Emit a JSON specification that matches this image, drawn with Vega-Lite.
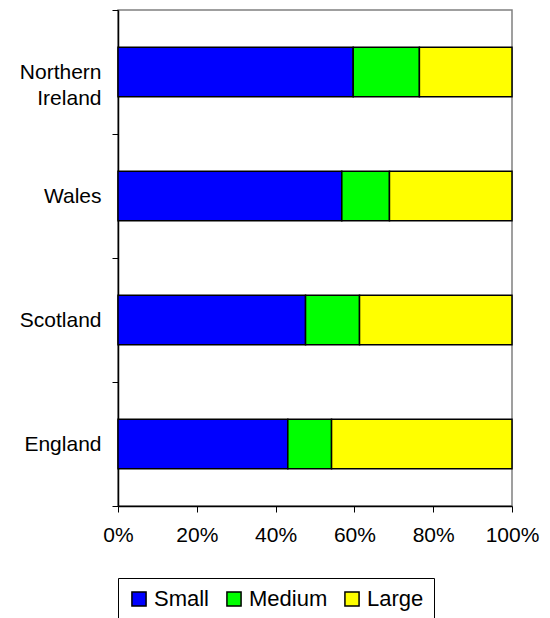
{
  "$schema": "https://vega.github.io/schema/vega-lite/v6.json",
  "autosize": {"type": "none"},
  "width": 394,
  "height": 496,
  "padding": {"left": 118, "top": 10, "right": 38, "bottom": 112},
  "background": "white",
  "config": {
    "font": "Liberation Sans",
    "view": {"stroke": "#808080", "strokeWidth": 1.5}
  },
  "data": {
    "values": [
      {"country": "Northern Ireland", "size": "Small", "order": 1, "share": 0.597},
      {"country": "Northern Ireland", "size": "Medium", "order": 2, "share": 0.168},
      {"country": "Northern Ireland", "size": "Large", "order": 3, "share": 0.235},
      {"country": "Wales", "size": "Small", "order": 1, "share": 0.568},
      {"country": "Wales", "size": "Medium", "order": 2, "share": 0.121},
      {"country": "Wales", "size": "Large", "order": 3, "share": 0.311},
      {"country": "Scotland", "size": "Small", "order": 1, "share": 0.476},
      {"country": "Scotland", "size": "Medium", "order": 2, "share": 0.137},
      {"country": "Scotland", "size": "Large", "order": 3, "share": 0.387},
      {"country": "England", "size": "Small", "order": 1, "share": 0.431},
      {"country": "England", "size": "Medium", "order": 2, "share": 0.111},
      {"country": "England", "size": "Large", "order": 3, "share": 0.458}
    ]
  },
  "mark": {"type": "bar", "stroke": "black", "strokeWidth": 1.5, "height": {"band": 0.4}},
  "encoding": {
    "y": {
      "field": "country",
      "type": "nominal",
      "sort": ["Northern Ireland", "Wales", "Scotland", "England"],
      "scale": {"paddingInner": 0, "paddingOuter": 0},
      "axis": {
        "title": null,
        "labelExpr": "datum.value == 'Northern Ireland' ? ['Northern', 'Ireland\u00a0\u2009'] : datum.value",
        "labelFontSize": 21,
        "labelLineHeight": 26,
        "labelColor": "black",
        "labelPadding": 11,
        "tickBand": "extent",
        "tickSize": 6,
        "tickColor": "black",
        "domainColor": "black",
        "domainWidth": 1.5
      }
    },
    "x": {
      "field": "share",
      "type": "quantitative",
      "stack": "zero",
      "scale": {"domain": [0, 1], "nice": false},
      "axis": {
        "title": null,
        "format": ".0%",
        "values": [0, 0.2, 0.4, 0.6, 0.8, 1],
        "grid": false,
        "labelFontSize": 21,
        "labelColor": "black",
        "labelPadding": 12,
        "tickSize": 6,
        "tickColor": "black",
        "domainColor": "black",
        "domainWidth": 1.5,
        "labelFlush": false
      }
    },
    "order": {"field": "order", "type": "quantitative"},
    "color": {
      "field": "size",
      "type": "nominal",
      "sort": ["Small", "Medium", "Large"],
      "scale": {"domain": ["Small", "Medium", "Large"], "range": ["#0000ff", "#00ff00", "#ffff00"]},
      "legend": {
        "title": null,
        "orient": "none",
        "legendX": 0,
        "legendY": 568,
        "direction": "horizontal",
        "symbolType": "square",
        "symbolSize": 200,
        "symbolStrokeColor": "black",
        "symbolStrokeWidth": 1.5,
        "symbolOpacity": 1,
        "labelFontSize": 22,
        "labelColor": "black",
        "labelOffset": 4,
        "columnPadding": 13,
        "strokeColor": "black",
        "padding": 10,
        "fillColor": "white"
      }
    }
  }
}
